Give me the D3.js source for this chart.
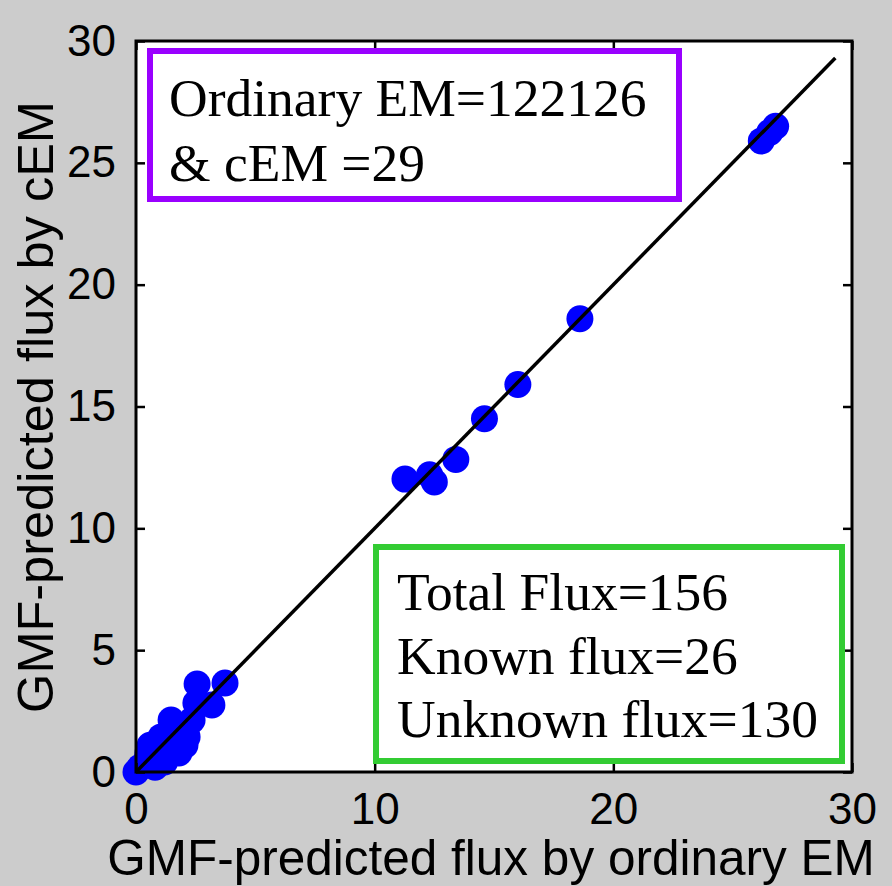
<!DOCTYPE html>
<html lang="en">
<head>
<meta charset="utf-8" />
<title>GMF flux: ordinary EM vs cEM</title>
<script src="https://cdn.jsdelivr.net/npm/d3@7"></script>
<style>
  body { margin: 0; background: #cccccc; }
  svg { display: block; }
  .tick text { font-family: "Liberation Sans", Arial, sans-serif; }
  .note { font-family: "Liberation Serif", "Times New Roman", serif; font-size: 53.5px; fill: #000; }
</style>
</head>
<body>
<div id="chart"></div>
<script>
// flux predicted by ordinary EM (x) and by cEM (y)
var emFlux  = [0, 0.17, 0.8, 0.46, 1.2, 0.5, 1.17, 1.8, 0.59, 2.05, 1.05, 2.14, 1.63, 1.47, 2.35,
               2.51, 3.18, 2.56, 3.73,
               11.27, 12.3, 12.5, 13.4, 14.6, 16.0, 18.6, 26.2, 26.55, 26.8];
var cemFlux = [0, 0.2, 0.2, 0.5, 0.41, 0.78, 0.78, 0.78, 1.1, 1.1, 1.44, 1.44, 1.8, 2.13, 2.13,
               2.83, 2.75, 3.61, 3.65,
               12.02, 12.2, 11.9, 12.83, 14.5, 15.9, 18.6, 25.9, 26.25, 26.5];
var xTicks = [0, 10, 20, 30];
var yTicks = [0, 5, 10, 15, 20, 25, 30];
var diagonal = [0, 29.3];
var topNote = ["Ordinary EM=122126", "& cEM =29"];
var bottomNote = ["Total Flux=156", "Known flux=26", "Unknown flux=130"];

var width = 892, height = 886;
var margin = {left: 136, right: 852, top: 41, bottom: 772};

var x = d3.scaleLinear().domain([0, 30]).range([margin.left, margin.right]);
var y = d3.scaleLinear().domain([0, 30]).range([margin.bottom, margin.top]);

var svg = d3.select("#chart").append("svg")
    .attr("width", width)
    .attr("height", height);

svg.append("rect")
    .attr("width", width).attr("height", height)
    .attr("fill", "#cccccc");

svg.append("rect")
    .attr("x", margin.left).attr("y", margin.top)
    .attr("width", margin.right - margin.left).attr("height", margin.bottom - margin.top)
    .attr("fill", "#fff");

// points
svg.append("g").selectAll("circle")
    .data(emFlux.map(function(d, i) { return [d, cemFlux[i]]; }))
  .enter().append("circle")
    .attr("cx", function(d) { return x(d[0]); })
    .attr("cy", function(d) { return y(d[1]); })
    .attr("r", 13.5)
    .attr("fill", "#0000ff");

// y = x line
svg.append("line")
    .attr("x1", x(diagonal[0])).attr("y1", y(diagonal[0]))
    .attr("x2", x(diagonal[1])).attr("y2", y(diagonal[1]))
    .attr("stroke", "#000")
    .attr("stroke-width", 3.5);

// axes, ticks inward on all sides
function styleAxis(g) {
  g.select(".domain").remove();
  g.selectAll(".tick line").attr("stroke", "#000").attr("stroke-width", 2.5);
  g.selectAll(".tick text").attr("font-size", 44).attr("fill", "#000");
}

svg.append("g")
    .attr("transform", "translate(0," + margin.bottom + ")")
    .call(d3.axisBottom(x).tickValues(xTicks).tickSizeInner(-9).tickSizeOuter(0).tickPadding(21))
    .call(styleAxis);

svg.append("g")
    .attr("transform", "translate(0," + margin.top + ")")
    .call(d3.axisTop(x).tickValues(xTicks).tickSizeInner(-9).tickSizeOuter(0).tickFormat(""))
    .call(styleAxis);

svg.append("g")
    .attr("transform", "translate(" + margin.left + ",0)")
    .call(d3.axisLeft(y).tickValues(yTicks).tickSizeInner(-9).tickSizeOuter(0).tickPadding(20))
    .call(styleAxis);

svg.append("g")
    .attr("transform", "translate(" + margin.right + ",0)")
    .call(d3.axisRight(y).tickValues(yTicks).tickSizeInner(-9).tickSizeOuter(0).tickFormat(""))
    .call(styleAxis);

svg.append("rect")
    .attr("x", margin.left).attr("y", margin.top)
    .attr("width", margin.right - margin.left).attr("height", margin.bottom - margin.top)
    .attr("fill", "none")
    .attr("stroke", "#000")
    .attr("stroke-width", 3);

// axis titles
svg.append("text")
    .attr("x", (margin.left + margin.right) / 2 - 3)
    .attr("y", 875)
    .attr("text-anchor", "middle")
    .attr("font-family", "Liberation Sans, Arial, sans-serif")
    .attr("font-size", 49.5)
    .text("GMF-predicted flux by ordinary EM");

svg.append("text")
    .attr("transform", "translate(53,407) rotate(-90)")
    .attr("text-anchor", "middle")
    .attr("font-family", "Liberation Sans, Arial, sans-serif")
    .attr("font-size", 50.5)
    .text("GMF-predicted flux by cEM");

// annotation boxes
svg.append("rect")
    .attr("x", 150).attr("y", 51).attr("width", 529).attr("height", 148)
    .attr("fill", "#fff")
    .attr("stroke", "#9900ff")
    .attr("stroke-width", 6);

svg.append("g").selectAll("text")
    .data(topNote)
  .enter().append("text")
    .attr("class", "note")
    .attr("x", 169)
    .attr("y", function(d, i) { return 116 + i * 65; })
    .text(function(d) { return d; });

svg.append("rect")
    .attr("x", 376).attr("y", 547).attr("width", 466).attr("height", 214)
    .attr("fill", "#fff")
    .attr("stroke", "#33cc33")
    .attr("stroke-width", 6);

svg.append("g").selectAll("text")
    .data(bottomNote)
  .enter().append("text")
    .attr("class", "note")
    .attr("x", 397)
    .attr("y", function(d, i) { return 610 + i * 63.5; })
    .text(function(d) { return d; });
</script>
</body>
</html>
